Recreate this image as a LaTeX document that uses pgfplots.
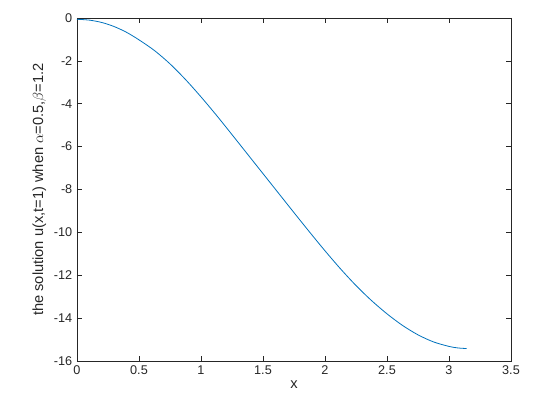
\documentclass[border=0pt]{standalone}
\usepackage{fontspec}
\setmainfont{Liberation Sans}
\usepackage{pgfplots}
\pgfplotsset{compat=1.18}

\definecolor{mblue}{rgb}{0,0.447,0.741}
\definecolor{axgray}{rgb}{0.15,0.15,0.15}

\begin{document}
\begin{tikzpicture}
\begin{axis}[
    scale only axis,
    width=325.5pt, height=257.25pt,
    xmin=0, xmax=3.5,
    ymin=-16, ymax=0,
    xtick={0,0.5,...,3.5},
    ytick={-16,-14,...,0},
    tick align=inside,
    major tick length=3.5pt,
    axis line style={axgray, line width=0.5pt},
    tick style={axgray, line width=0.5pt},
    every tick label/.append style={font=\fontsize{9.5}{11}\selectfont, text=axgray},
    label style={font=\fontsize{11}{13}\selectfont, text=axgray},
    /pgf/number format/assume math mode=true,
    xlabel={x},
    ylabel={the solution u(x,t=1) when $\alpha$=0.5,$\beta$=1.2},
    xlabel style={yshift=2pt},
    ylabel style={yshift=-1pt},
]
\addplot[color=mblue, line width=0.6pt, smooth] coordinates {
    (0, -0.06) (0.1, -0.10) (0.2, -0.21) (0.3, -0.40) (0.4, -0.67)
    (0.5, -1.02) (0.625, -1.52) (0.75, -2.14) (0.875, -2.87) (1.0, -3.68)
    (1.125, -4.54) (1.25, -5.44) (1.375, -6.35) (1.5, -7.26) (1.625, -8.17)
    (1.75, -9.08) (1.875, -9.98) (2.0, -10.86) (2.125, -11.70) (2.25, -12.48)
    (2.375, -13.18) (2.5, -13.80) (2.625, -14.34) (2.75, -14.78) (2.875, -15.11)
    (3.0, -15.32) (3.07, -15.39) (3.1416, -15.42)
};
\end{axis}
\pgfresetboundingbox
\path ([shift={(-57.75pt,-33pt)}]current axis.south west) rectangle ([shift={(18.75pt,13.5pt)}]current axis.north east);
\end{tikzpicture}
\end{document}
